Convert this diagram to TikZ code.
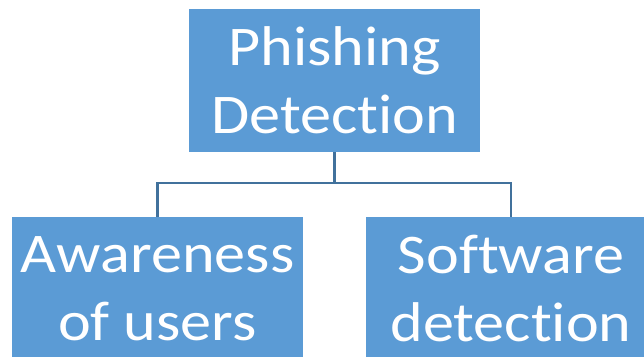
\documentclass[tikz,border=0pt]{standalone}
\usepackage{fontspec}
\setmainfont[Ligatures=NoCommon, FakeStretch=1.11]{Carlito}
\definecolor{boxblue}{HTML}{5B9BD5}
\definecolor{lineblue}{HTML}{41719C}
\begin{document}
\begin{tikzpicture}[x=1pt,y=-1pt,
  box/.style={fill=boxblue, text=white, inner sep=0pt, minimum width=291pt, minimum height=143pt,
    align=center, font=\fontsize{56}{68}\selectfont},
  conn/.style={draw=lineblue, line width=2.2pt}]
\fill[white] (0,0) rectangle (644,356);
\useasboundingbox (0,0) rectangle (644,356);
\clip (0,0) rectangle (644,356);
\node[box] (top) at (334.5,80.5) {Phishing\\Detection};
\node[box] (left) at (157.5,288.5) {Awareness\\of users};
\node[box] (right) at (511,288.5) {Software\\detection};
\coordinate (mid) at (top.south |- 0,183);
\draw[conn] (top.south) -- (mid) -| (left.north);
\draw[conn] (mid) -| (right.north);
\end{tikzpicture}
\end{document}
